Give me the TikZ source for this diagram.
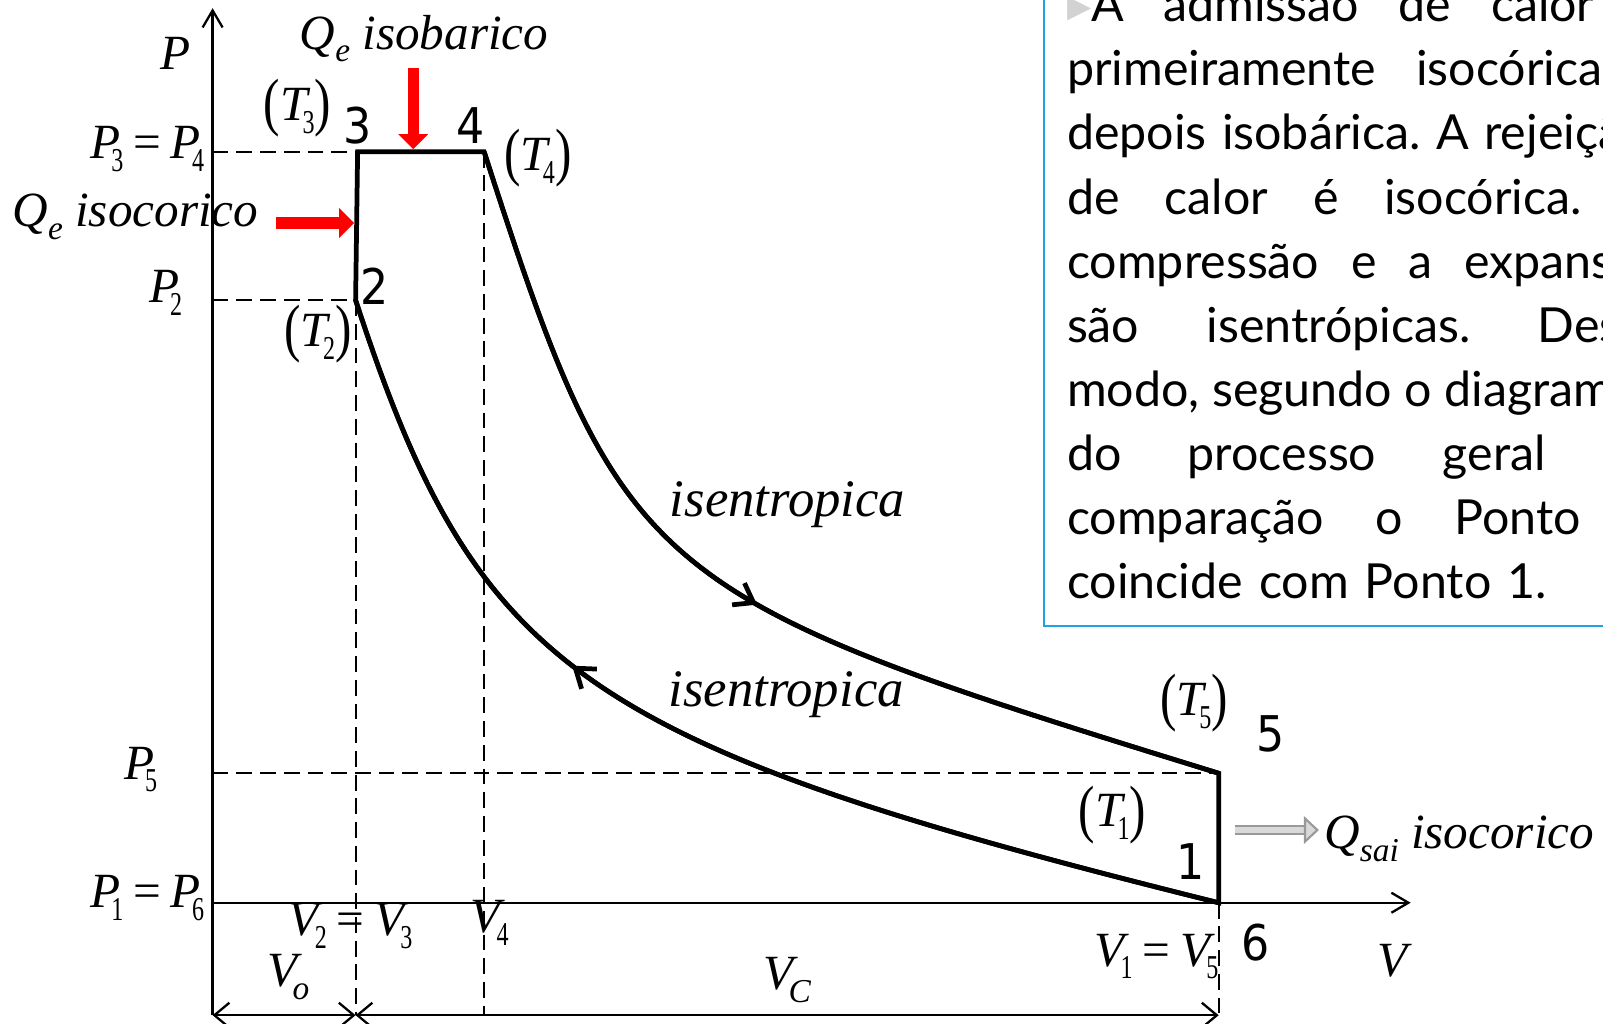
\documentclass[tikz,border=0pt]{standalone}
\usepackage{fontspec}
\setmainfont{Liberation Serif}
\newfontfamily\textofont{Lato}
\newfontfamily\numfont[FakeStretch=0.9]{DejaVu Sans}
\newfontfamily\marcafont{DejaVu Sans}
\usetikzlibrary{arrows.meta,decorations.markings,calc}

\definecolor{azulcaixa}{RGB}{30,165,225}

% indices e parenteses altos
\newcommand{\sbs}[1]{\raisebox{-0.26em}{\fontsize{19}{19}\selectfont #1}}
\newcommand{\sbi}[1]{\kern-0.1em\sbs{#1}}
\newcommand{\sbd}[2][-0.12em]{\kern#1\sbs{\scalebox{0.72}[1]{\upshape #2}}}
\newcommand{\bigpar}[1]{\raisebox{-0.07em}{\scalebox{1}[1.3]{\upshape #1}}}
\newcommand{\tpar}[1]{\bigpar{(}T\sbd[-0.1em]{#1}\bigpar{)}}
\newcommand{\igual}{{\upshape\kern0.2em=\kern0.2em}}
% linha justificada do texto
\newcommand{\linha}[2]{\makebox[#1][s]{\spaceskip=0.25em plus 1fil\xspaceskip=\spaceskip\relax #2 \null}}

\begin{document}
\begin{tikzpicture}[
  rotulo/.style={font=\fontsize{28}{30}\selectfont\itshape, inner sep=0pt},
  numero/.style={font=\numfont\fontsize{28}{30}\selectfont, inner sep=0pt},
  eixo/.style={line width=1.3pt, -{Straight Barb[length=0.34cm,width=0.4cm]}},
  ciclo/.style={line width=2.7pt, line join=miter},
  tracejado/.style={line width=1.1pt, dash pattern=on 9pt off 4.5pt},
  cota/.style={line width=1.3pt, {Straight Barb[length=0.3cm,width=0.5cm]}-{Straight Barb[length=0.3cm,width=0.5cm]}},
  setaq/.style={red, line width=6.5pt, -{Triangle[length=0.3cm,width=0.58cm]}},
  setasai/.style={draw=gray!80, double=gray!30, line width=1.2pt, double distance=3.2pt, -{Triangle[length=0.3cm,width=0.55cm,fill=gray!30]}},
  sentido/.style={postaction={decorate}, decoration={markings, mark=at position #1 with {\arrow{Straight Barb[length=0.35cm,width=0.5cm]}}}}
]
\useasboundingbox (-4.252,-2.413) rectangle (27.807,18.054);
\clip (-4.252,-2.413) rectangle (27.807,18.054);

% Pontos do ciclo
\coordinate (O) at (0,0);
\coordinate (p1) at (20.12,0);
\coordinate (p2) at (2.86,12.05);
\coordinate (p3) at (2.90,15.02);
\coordinate (p4) at (5.43,15.02);
\coordinate (p5) at (20.12,2.59);
\coordinate (base) at (0,-2.25);
\coordinate (fimP) at (0,17.89);
\coordinate (fimV) at (23.96,0);

% Eixos
\draw [eixo] (base) -- (fimP);
\draw [eixo] (O) -- (fimV);

% Linhas auxiliares
\draw [tracejado] (O |- p3) -- (p3);
\draw [tracejado] (O |- p2) -- (p2);
\draw [tracejado] (O |- p5) -- (p5);
\draw [tracejado] (p2) -- (p2 |- base);
\draw [tracejado] (p4) -- (p4 |- base);
\draw [tracejado] (p1) -- (p1 |- base);

% Cotas
\draw [cota] (base) -- (p2 |- base);
\draw [cota] (p2 |- base) -- (p1 |- base);

% Ciclo
\draw [ciclo] (p1) .. controls (7.36,3.17) and (5.29,4.62) .. (p2) -- (p3) -- (p4) .. controls (8.19,6.45) and (8.62,6.13) .. (p5) -- cycle;
\draw [ciclo, sentido=0.525] (p4) .. controls (8.19,6.45) and (8.62,6.13) .. (p5);
\draw [ciclo, sentido=0.616] (p1) .. controls (7.36,3.17) and (5.29,4.62) .. (p2);

% Calor
\coordinate (qv) at ($(p3)!0.44!(p4)$);
\coordinate (qh) at ($(p2)!0.52!(p3)$);
\draw [setaq] ([yshift=1.67cm]qv) -- ([yshift=0.05cm]qv);
\draw [setaq] ([xshift=-1.62cm]qh) -- ([xshift=-0.05cm]qh);

% Rotulos
\node (eixoP) [rotulo, anchor=base] at (-0.735,16.664) {P};
\node (qiso) [rotulo, anchor=base west] at (1.738,17.07) {Q\sbs{e} isobarico};
\node (t3) [rotulo] at (1.698,15.887) {\tpar{3}};
\node (n3) [numero, anchor=base] at (2.904,15.192) {3};
\node (n4) [numero, anchor=base] at (5.153,15.192) {4};
\node (t4) [rotulo] at (6.503,14.885) {\tpar{4}};
\node (p34) [rotulo, anchor=base east] at (-0.163,14.885) {P\sbd[-0.18em]{3}\igual P\sbd[-0.18em]{4}};
\node (qisoc) [rotulo, anchor=base west] at (-4.007,13.515) {Q\sbs{e} isocorico};
\node (lp2) [rotulo, anchor=base east] at (-0.6,12.0) {P\sbd[-0.18em]{2}};
\node (n2) [numero, anchor=base] at (3.231,11.961) {2};
\node (t2) [rotulo] at (2.107,11.368) {\tpar{2}};
\node (isen1) [rotulo, font=\fontsize{30}{32}\selectfont\itshape, anchor=base west] at (9.14,7.73) {isentropica};
\node (isen2) [rotulo, font=\fontsize{30}{32}\selectfont\itshape, anchor=base west] at (9.11,3.92) {isentropica};
\node (lp5) [rotulo, anchor=base east] at (-1.1,2.474) {P\sbd[-0.18em]{5}};
\node (t5) [rotulo] at (19.629,3.987) {\tpar{5}};
\node (n5) [numero, anchor=base] at (21.162,3.026) {5};
\node (t1) [rotulo] at (17.993,1.759) {\tpar{1}};
\node (n1) [numero, anchor=base] at (19.568,0.47) {1};
\node (qsai) [rotulo, anchor=base west] at (22.226,1.084) {Q\sbs{sai} isocorico};
\node (p16) [rotulo, anchor=base east] at (-0.163,-0.102) {P\sbd[-0.18em]{1}\igual P\sbd[-0.18em]{6}};
\node (v23) [rotulo, anchor=base] at (2.761,-0.654) {V\sbd[-0.08em]{2}\igual V\sbd[-0.08em]{3}};
\node (v4) [rotulo, anchor=base west] at (5.153,-0.593) {V\sbd[-0.08em]{4}};
\node (vo) [rotulo, anchor=base] at (1.514,-1.676) {V\sbi{o}};
\node (vc) [rotulo, anchor=base] at (11.491,-1.737) {V\sbi{C}};
\node (v15) [rotulo, anchor=base east] at (20.12,-1.267) {V\sbd[-0.08em]{1}\igual V\sbd[-0.08em]{5}};
\node (n6) [numero, anchor=base] at (20.855,-1.165) {6};
\node (eixoV) [rotulo, anchor=base] at (23.596,-1.472) {V};

% Calor rejeitado
\coordinate (sai) at (20.45,1.454);
\draw [setasai] (sai) -- ([xshift=-0.1cm]sai -| qsai.west);

% Texto
\node (texto) [draw=azulcaixa, line width=1.1pt, anchor=base west, text width=12cm, align=left, inner xsep=0.46cm, inner ysep=0.53cm, font=\textofont\fontsize{27.5}{36.5}\selectfont] at (16.608,17.62) {%
\linha{8.48cm}{{\marcafont\color{gray!35}▸}A admissão de}calor\\
\linha{6.98cm}{primeiramente}isocórica\\
\linha{8.346cm}{depois isobárica. A}rejeição\\
\linha{6.346cm}{de calor é}isocórica.\\
\linha{7.946cm}{compressão e a}expansão\\
\linha{9.414cm}{são isentrópicas.}Deste\\
\linha{7.546cm}{modo, segundo o}diagrama\\
\linha{7.514cm}{do processo}geral\\
\linha{7.746cm}{comparação o}Ponto\\
coincide com Ponto 1.};

\end{tikzpicture}
\end{document}
